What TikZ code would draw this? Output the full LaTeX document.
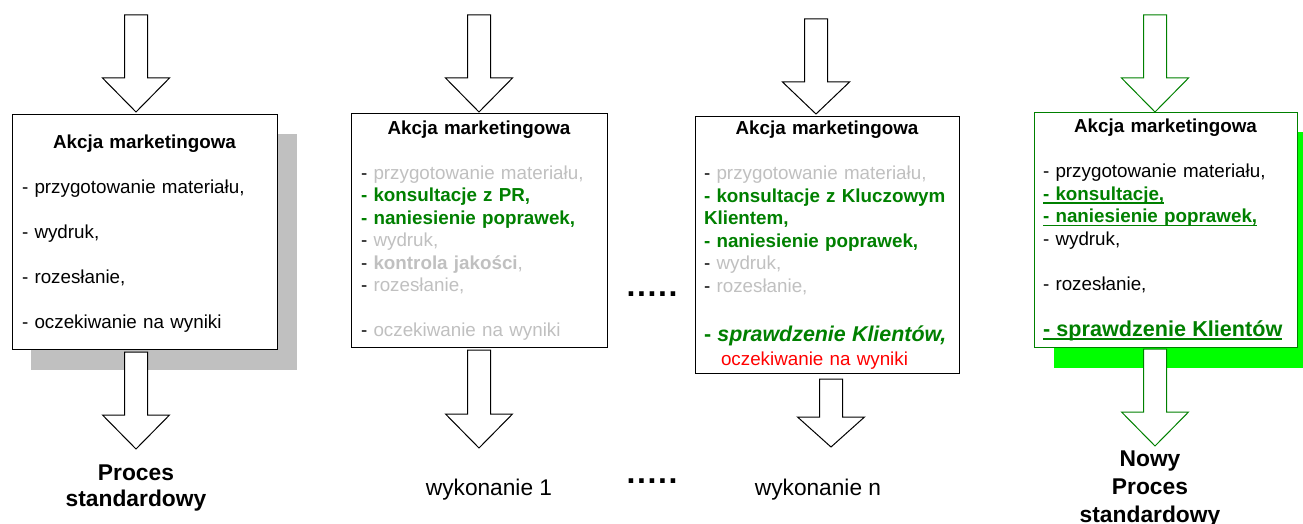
\documentclass[tikz,border=0pt]{standalone}
\usepackage{fontspec}
\setmainfont{Liberation Sans}
\usetikzlibrary{calc,backgrounds}

\definecolor{fadegray}{HTML}{C0C0C0}
\definecolor{shadowgray}{HTML}{C0C0C0}
\definecolor{okgreen}{HTML}{008000}
\definecolor{hotgreen}{HTML}{00FF00}

% underline drawn at a fixed depth below the baseline
\newcommand\ulx[1]{\setbox0\hbox{#1}\rlap{\rule[-3.2pt]{\wd0}{1.5pt}}\box0}
\newcommand\fade[1]{\textcolor{fadegray}{#1}}
\newcommand\ok[1]{\textcolor{okgreen}{\bfseries #1}}

% hollow block arrow: #2 = top of the shaft, #3 = tip, #4 = head length
\newcommand\blockarrow[4][]{%
  \draw[blockline,#1] ($(#2)+(-11.5,0)$) -- ($(#3)+(-11.5,-#4)$) -- ($(#3)+(-33.5,-#4)$)
    -- (#3) -- ($(#3)+(33.5,-#4)$) -- ($(#3)+(11.5,-#4)$) -- ($(#2)+(11.5,0)$) -- cycle;}

\begin{document}
\begin{tikzpicture}[x=1pt,y=-1pt,line join=miter,
  box/.style={draw=black,fill=white,line width=1pt,align=left,inner ysep=0pt,
    font=\fontsize{18.8}{22.5}\selectfont},
  blockline/.style={draw=black,fill=white,line width=1pt},
  greenline/.style={draw=okgreen},
  lbl/.style={align=center,inner sep=0pt,anchor=base},
  dots/.style={inner sep=0pt,anchor=base,font=\bfseries\fontsize{32}{32}\selectfont\addfontfeature{LetterSpace=5}}]

\useasboundingbox (0,0) rectangle (1303,524);

% ---------- standard process ----------
% the tall strut in the title line lowers the text block a little
\node[box,inner xsep=10pt,text width=245pt,minimum height=234pt] (b1) at (144.5,232) {%
\makebox[\linewidth]{\rule{0pt}{17.5pt}\bfseries Akcja marketingowa}\\[22.5pt]
- przygotowanie materiału,\\[22.5pt]
- wydruk,\\[22.5pt]
- rozesłanie,\\[22.5pt]
- oczekiwanie na wyniki};

% the base anchor of a multi-line label sits on its last line
\node[lbl,font=\bfseries\fontsize{22.8}{26.5}\selectfont] (l1) at (136,506.5) {Proces\\standardowy};

% ---------- run 1 ----------
\node[box,inner xsep=10pt,text width=236pt,minimum height=233pt] (b2) at (479,230.5) {%
\makebox[\linewidth]{\bfseries Akcja marketingowa}\\[22.5pt]
- \fade{przygotowanie materiału,}\\
\ok{- konsultacje z PR,}\\
\ok{- naniesienie poprawek,}\\
- \fade{wydruk,}\\
- \fade{\bfseries kontrola jakości}\fade{,}\\
- \fade{rozesłanie,}\\[22.5pt]
- \fade{oczekiwanie na wyniki}};

\node[lbl,font=\fontsize{22.7}{26}\selectfont] (l2) at (489,495) {wykonanie 1};

% ---------- run n ----------
\node[box,inner xsep=9pt,text width=246pt,minimum height=257pt] (b3) at (827,245) {%
\makebox[\linewidth]{\bfseries Akcja marketingowa}\\[22.5pt]
- \fade{przygotowanie materiału,}\\
\ok{- konsultacje z Kluczowym}\\
\ok{Klientem,}\\
\ok{- naniesienie poprawek,}\\
- \fade{wydruk,}\\
- \fade{rozesłanie,}\\[26.5pt]
{\fontsize{21.4}{22.5}\selectfont\ok{- \itshape sprawdzenie Klientów,}}\\[1.5pt]
\hspace*{17pt}\textcolor{red}{oczekiwanie na wyniki}};

\node[lbl,font=\fontsize{22.7}{26}\selectfont] (l3) at (818,495) {wykonanie n};

% ---------- new standard process ----------
\node[box,draw=okgreen,inner xsep=9pt,text width=245pt,minimum height=234pt] (b4) at (1165.5,230) {%
\makebox[\linewidth]{\bfseries Akcja marketingowa}\\[22.5pt]
- przygotowanie materiału,\\
\ok{\ulx{- konsultacje,}}\\
\ok{\ulx{- naniesienie poprawek,}}\\
- wydruk,\\[22.5pt]
- rozesłanie,\\[23.5pt]
{\fontsize{21.6}{22.5}\selectfont\ok{\ulx{- sprawdzenie Klientów}}}};

\node[lbl,font=\bfseries\fontsize{22.8}{28}\selectfont] (l4) at (1150,522) {Nowy\\Proces\\standardowy};

% ---------- ellipsis between the runs ----------
\node[dots] (e1) at (652,296) {.....};
\node[dots] (e2) at (652,483.5) {.....};

% ---------- drop shadows ----------
\begin{scope}[on background layer]
  \fill[shadowgray] ($(b1.north west)+(19.5,20)$) rectangle ($(b1.south east)+(19.5,20)$);
  \fill[hotgreen] ($(b4.north west)+(20,20)$) rectangle ($(b4.south east)+(20,20)$);
\end{scope}

% ---------- flow arrows ----------
\coordinate (t1) at (136,15);
\coordinate (t1e) at ($(b1.north -| t1)+(0,-2.5)$);
\coordinate (d1) at ($(b1.south -| t1)+(0,2.5)$);
\coordinate (d1e) at (136,449);

\coordinate (t2) at (479,15);
\coordinate (t2e) at ($(b2.north -| t2)+(0,-1.5)$);
\coordinate (d2) at ($(b2.south -| t2)+(0,2.5)$);
\coordinate (d2e) at (479,448);

\coordinate (t3) at (816,19);
\coordinate (t3e) at ($(b3.north -| t3)+(0,-2)$);
\coordinate (d3e) at (831,447);
\coordinate (d3) at ($(b3.south -| d3e)+(0,5)$);

\coordinate (t4) at (1155,15);
\coordinate (t4e) at ($(b4.north -| t4)+(0,-0.5)$);
\coordinate (d4) at ($(b4.south -| t4)+(0,1.5)$);
\coordinate (d4e) at (1155,446);

\blockarrow{t1}{t1e}{34}
\blockarrow{d1}{d1e}{34}
\blockarrow{t2}{t2e}{34}
\blockarrow{d2}{d2e}{34}
\blockarrow{t3}{t3e}{32}
\blockarrow{d3}{d3e}{30}
\blockarrow[greenline]{t4}{t4e}{34}
\blockarrow[greenline]{d4}{d4e}{34}

\end{tikzpicture}
\end{document}
